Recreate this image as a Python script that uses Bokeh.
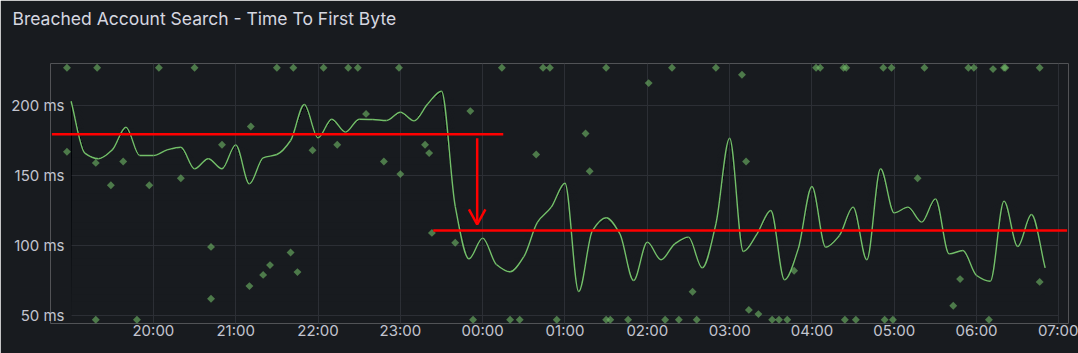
import numpy as np
import pandas as pd
from bokeh.plotting import figure
from bokeh.models import FixedTicker, PrintfTickFormatter, DatetimeTickFormatter, Range1d, Title
from bokeh.embed import file_html
from bokeh.resources import INLINE

# ---------------- data ----------------
TITLE = "Breached Account Search - Time To First Byte"

# smoothed TTFB series: one value every 10 minutes, 19:00 .. 06:50
ttfb_start = "19:00"
ttfb_step_minutes = 10
ttfb_ms = [203, 166, 162, 168.3, 184.5, 164.3, 164.3, 168.3, 170.2, 154.8,
           162, 154.8, 171.9, 144, 162.6, 165, 175, 200.7, 176.9, 190.2,
           181, 190.2, 190, 189.3, 195.2, 189, 201.2, 210.2, 128, 90.5,
           105.3, 86.4, 81.2, 92, 116.7, 127.4, 144.5, 67.1, 110.7, 119.8,
           108.3, 75, 102.4, 89.8, 101.2, 106, 84, 115.5, 176.7, 95.7,
           108.3, 125, 75.5, 97.6, 142.1, 98.8, 107.1, 127.4, 89.8, 154.8,
           123.3, 127.4, 116.7, 133.3, 94, 96.4, 78.6, 74.5, 131.7, 99.3,
           122.1, 84]

# individual samples (points)
sample_time = ["18:57", "18:57", "19:18", "19:18", "19:19", "19:29", "19:38", "19:48", "19:57", "20:04",
               "20:20", "20:30", "20:42", "20:42", "20:50", "21:10", "21:11", "21:20", "21:25", "21:30",
               "21:40", "21:42", "21:45", "21:56", "22:04", "22:14", "22:22", "22:29", "22:35", "22:48",
               "22:59", "23:00", "23:18", "23:21", "23:23", "23:40", "23:51", "23:53", "00:14", "00:20",
               "00:27", "00:39", "00:44", "00:49", "00:54", "01:15", "01:18", "01:30", "01:30", "01:33",
               "01:46", "02:01", "02:13", "02:18", "02:23", "02:33", "02:36", "02:50", "03:09", "03:12",
               "03:14", "03:21", "03:31", "03:36", "03:42", "03:47", "04:03", "04:06", "04:23", "04:24",
               "04:25", "04:32", "04:52", "04:53", "04:58", "04:59", "05:17", "05:22", "05:43", "05:48",
               "05:54", "05:58", "06:09", "06:12", "06:20", "06:21", "06:46", "06:46"]
sample_ms = [227, 167, 159, 47, 227, 143, 160, 47, 143, 227,
             148, 227, 99, 62, 172, 71, 185, 79, 86, 227,
             95, 227, 81, 168, 227, 172, 227, 227, 194, 160,
             227, 151, 172, 166, 109, 102, 196, 47, 227, 47,
             47, 165, 227, 227, 47, 180, 153, 227, 47, 47,
             47, 216, 47, 227, 47, 67, 47, 227, 222, 160,
             54, 51, 47, 47, 47, 82, 227, 227, 227, 47,
             227, 47, 227, 47, 227, 47, 148, 227, 57, 76,
             227, 227, 47, 226, 227, 227, 227, 74]

x_tick_labels = ["20:00", "21:00", "22:00", "23:00", "00:00", "01:00",
                 "02:00", "03:00", "04:00", "05:00", "06:00", "07:00"]
y_ticks = [50, 100, 150, 200]

# red annotation: old level, new level, arrow
before_level = {"from": "18:46", "to": "00:15", "ms": 179.5}
after_level = {"from": "23:24", "to": "07:06", "ms": 110.7}
arrow_x = "23:56"
arrow_from_ms = 176.6
arrow_to_ms = 115.5
arrow_wing_times = ["23:50", "23:56", "00:02"]
arrow_wing_ms = [125.8, 115.0, 125.8]

view_start = "18:45"
view_end = "07:07"
grid_end = "07:00"
y_view = (44.29, 230.0)

# ---------------- helpers ----------------
BASE = pd.Timestamp("2024-05-01")


def ts(hhmm):
    h, m = map(int, hhmm.split(":"))
    day = 0 if h >= 12 else 1
    t = BASE + pd.Timedelta(days=day, hours=h, minutes=m)
    return t.value / 1e6  # ms since epoch


BG = "#181b1f"
GREEN = "#73bf69"
GRID = "#2c2f35"
TEXT = "#c3c5cf"

x0 = ts(ttfb_start)
step = ttfb_step_minutes * 60 * 1000.0
xs = np.array([x0 + i * step for i in range(len(ttfb_ms))])
ys = np.array(ttfb_ms, dtype=float)

p = figure(width=1078, height=353, x_axis_type="datetime",
           x_range=Range1d(ts(view_start), ts(view_end)),
           y_range=Range1d(*y_view),
           output_backend="svg", toolbar_location=None,
           min_border_left=50, min_border_right=10,
           min_border_top=63, min_border_bottom=30,
           background_fill_color=BG, border_fill_color=BG,
           outline_line_color=None, title=TITLE)

p.title.text_font = "Inter"
p.title.text_font_size = "17.5px"
p.title.text_font_style = "normal"
p.title.text_color = "#d6d7e0"
p.title.align = "left"
p.title.offset = -38
p.title.standoff = 0

# invisible spacer between title and plot area
spacer = Title(text=" ", text_font_size="10px", standoff=22)
p.add_layout(spacer, "above")

# axes
p.xaxis.ticker = FixedTicker(ticks=[ts(t) for t in x_tick_labels])
p.xaxis.formatter = DatetimeTickFormatter(minutes="%H:%M", hourmin="%H:%M",
                                          hours="%H:%M", days="%H:%M")
p.yaxis.ticker = FixedTicker(ticks=y_ticks)
p.yaxis.formatter = PrintfTickFormatter(format="%d ms")
for ax in (p.xaxis, p.yaxis):
    ax.axis_line_color = None
    ax.major_tick_line_color = None
    ax.minor_tick_line_color = None
    ax.major_label_text_font = "Inter"
    ax.major_label_text_font_size = "15px"
    ax.major_label_text_color = TEXT
p.yaxis.major_label_standoff = -20
p.xaxis.major_label_standoff = -9

p.xgrid.grid_line_color = GRID
p.ygrid.grid_line_color = GRID
p.ygrid.cross_bounds = (ts(ttfb_start), ts(grid_end))

# gradient fill (stacked faint layers)
n_layers = 36
lo, hi = y_view
alpha_each = 1 - (1 - 0.27) ** (1.0 / n_layers)
for i in range(n_layers):
    lev = lo + i * (hi - lo) / n_layers
    p.varea(x=xs, y1=np.full_like(ys, lev), y2=np.maximum(ys, lev),
            fill_color=GREEN, fill_alpha=alpha_each)

# smooth line (monotone cubic drawn as bezier segments)
d = np.diff(ys)
m = np.zeros_like(ys)
m[0] = d[0]
m[-1] = d[-1]
for k in range(1, len(ys) - 1):
    if d[k - 1] * d[k] > 0:
        m[k] = 2 * d[k - 1] * d[k] / (d[k - 1] + d[k])
    else:
        m[k] = 0.0
p.bezier(x0=xs[:-1], y0=ys[:-1], x1=xs[1:], y1=ys[1:],
         cx0=xs[:-1] + step / 3, cy0=ys[:-1] + m[:-1] / 3,
         cx1=xs[1:] - step / 3, cy1=ys[1:] - m[1:] / 3,
         line_color=GREEN, line_width=1.4)

# sample points
p.scatter(x=[ts(t) for t in sample_time], y=sample_ms, marker="square",
          size=5.6, angle=np.pi / 4, fill_color=GREEN, fill_alpha=0.58,
          line_color=None)

# red annotations
RED = "#ff0000"
p.segment(x0=[ts(before_level["from"]), ts(after_level["from"])],
          y0=[before_level["ms"], after_level["ms"]],
          x1=[ts(before_level["to"]), ts(after_level["to"])],
          y1=[before_level["ms"], after_level["ms"]],
          line_color=RED, line_width=2.5)
p.segment(x0=[ts(arrow_x)], y0=[arrow_from_ms], x1=[ts(arrow_x)], y1=[arrow_to_ms + 1.5],
          line_color=RED, line_width=2.5)
p.line(x=[ts(t) for t in arrow_wing_times], y=arrow_wing_ms,
       line_color=RED, line_width=2.5)

open("out.html", "w").write(file_html(p, INLINE))
